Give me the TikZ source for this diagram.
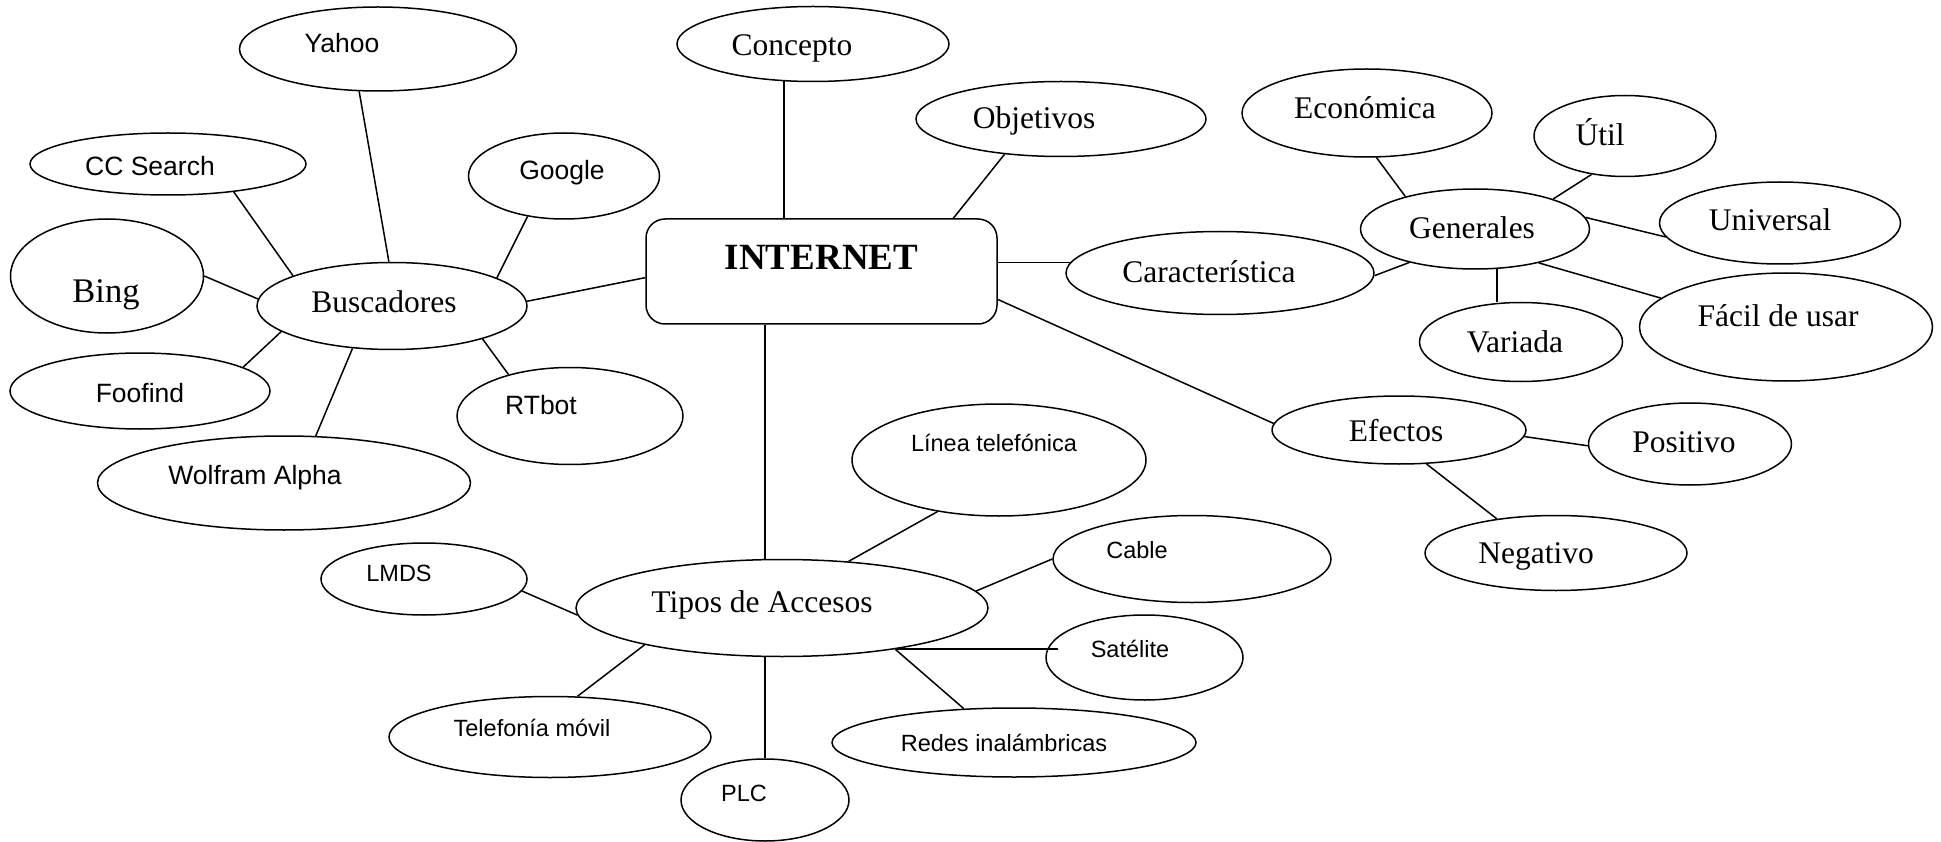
\documentclass[tikz,border=0pt]{standalone}
\usepackage{fontspec}
\setmainfont{Liberation Serif}
\newfontfamily\arialf{Liberation Sans}
\usetikzlibrary{shapes.geometric}
\tikzset{
  el/.style={ellipse, draw, line width=1.5pt, inner sep=0pt},
  tx/.style={inner sep=0pt, text height=21pt, text depth=0pt, font=\fontsize{31.5}{36}\selectfont},
  sa/.style={inner sep=0pt, text height=19pt, text depth=0pt, font=\arialf\fontsize{26.5}{30}\selectfont},
  sb/.style={inner sep=0pt, text height=17pt, text depth=0pt, font=\arialf\fontsize{23.5}{27}\selectfont},
  ln/.style={line width=1.5pt},
}
\begin{document}
\begin{tikzpicture}[x=1pt,y=-1pt]
\useasboundingbox (0,0) rectangle (1941,842);
% centre
\node[draw, line width=1.5pt, rounded corners=19pt, minimum width=351pt, minimum height=105pt, inner sep=0pt,
  label={[tx, font=\bfseries\fontsize{37}{42}\selectfont, text height=25pt, yshift=14.5pt]center:INTERNET}] (internet) at (821.5,271.5) {};
% top
\node[el, minimum width=272pt, minimum height=75pt, label={[tx,xshift=-21pt,yshift=-1pt]center:Concepto}] (concepto) at (813,44) {};
\node[el, minimum width=290pt, minimum height=75pt, label={[tx,xshift=-27pt,yshift=1pt]center:Objetivos}] (objetivos) at (1061,119) {};
\node[el, minimum width=308pt, minimum height=83pt, label={[tx,xshift=-11pt,yshift=1pt]center:Característica}] (caract) at (1220,273) {};
% buscadores
\node[el, minimum width=270pt, minimum height=87pt, label={[tx,xshift=-8pt,yshift=4pt]center:Buscadores}] (busc) at (392,306) {};
\node[el, minimum width=277pt, minimum height=84pt, label={[sa,xshift=-36pt,yshift=6pt]center:Yahoo}] (yahoo) at (378,49) {};
\node[el, minimum width=276pt, minimum height=62pt, label={[sa,xshift=-18pt,yshift=-2pt]center:CC Search}] (ccs) at (168,164) {};
\node[el, minimum width=191pt, minimum height=86pt, label={[sa,xshift=-2pt,yshift=6pt]center:Google}] (google) at (564,176) {};
\node[el, minimum width=193pt, minimum height=114pt, label={[tx,font=\fontsize{34.5}{40}\selectfont,text height=23pt,xshift=-1pt,yshift=-15pt]center:Bing}] (bing) at (107,276) {};
\node[el, minimum width=260pt, minimum height=76pt, label={[sa,yshift=-2pt]center:Foofind}] (foofind) at (140,391) {};
\node[el, minimum width=226pt, minimum height=97pt, label={[sa,xshift=-29pt,yshift=11pt]center:RTbot}] (rtbot) at (570,416) {};
\node[el, minimum width=373pt, minimum height=94pt, label={[sa,xshift=-29pt,yshift=8pt]center:Wolfram Alpha}] (wolfram) at (284,483) {};
% generales
\node[el, minimum width=229pt, minimum height=80pt, label={[tx,xshift=-3pt,yshift=1pt]center:Generales}] (gen) at (1475,229) {};
\node[el, minimum width=250pt, minimum height=88pt, label={[tx,xshift=-2pt,yshift=5pt]center:Económica}] (econ) at (1367,113) {};
\node[el, minimum width=182pt, minimum height=81pt, label={[tx,xshift=-25pt,yshift=1pt]center:Útil}] (util) at (1625,136) {};
\node[el, minimum width=241pt, minimum height=82pt, label={[tx,xshift=-10pt,yshift=3pt]center:Universal}] (univ) at (1780,223) {};
\node[el, minimum width=203pt, minimum height=79pt, label={[tx,xshift=-6pt]center:Variada}] (variada) at (1521,342) {};
\node[el, minimum width=293pt, minimum height=108pt, label={[tx,xshift=-8pt,yshift=11pt]center:Fácil de usar}] (facil) at (1786,327) {};
% efectos
\node[el, minimum width=254pt, minimum height=68pt, label={[tx,xshift=-3pt,yshift=-1pt]center:Efectos}] (efectos) at (1399,430) {};
\node[el, minimum width=203pt, minimum height=82pt, label={[tx,xshift=-6pt,yshift=2pt]center:Positivo}] (positivo) at (1690,444) {};
\node[el, minimum width=262pt, minimum height=75pt, label={[tx,xshift=-20pt]center:Negativo}] (negativo) at (1556,553) {};
% tipos de accesos
\node[el, minimum width=412pt, minimum height=97pt, label={[tx,xshift=-20pt,yshift=6pt]center:Tipos de Accesos}] (tipos) at (782,608) {};
\node[el, minimum width=294pt, minimum height=112pt, label={[sb,xshift=-5pt,yshift=17pt]center:Línea telefónica}] (linea) at (999,460) {};
\node[el, minimum width=278pt, minimum height=87pt, label={[sb,xshift=-55pt,yshift=9pt]center:Cable}] (cable) at (1192,559) {};
\node[el, minimum width=197pt, minimum height=85pt, label={[sb,xshift=-14.5pt,yshift=8.5pt]center:Satélite}] (satel) at (1144.5,657.5) {};
\node[el, minimum width=364pt, minimum height=69pt, label={[sb,xshift=-10pt]center:Redes inalámbricas}] (redes) at (1014,742.5) {};
\node[el, minimum width=168pt, minimum height=82pt, label={[sb,xshift=-21pt,yshift=7pt]center:PLC}] (plc) at (765,800) {};
\node[el, minimum width=322pt, minimum height=81pt, label={[sb,xshift=-18pt,yshift=9pt]center:Telefonía móvil}] (movil) at (550,737) {};
\node[el, minimum width=206pt, minimum height=72pt, label={[sb,xshift=-25pt,yshift=6pt]center:LMDS}] (lmds) at (424,579) {};
% connectors: internet
\draw[ln] (concepto.232) -- (concepto.232 |- internet.north);
\draw[ln] (objetivos.212) -- (internet.22);
\draw[ln] (caract.176) -- (caract.176 -| internet.east);
\draw[ln] (busc.2) -- (internet.182);
\draw[ln] (internet.351) -- (efectos.177);
\draw[ln] (internet.south -| plc.north) -- (tipos.north -| plc.north);
% buscadores
\draw[ln] (yahoo.246) -- (busc.94);
\draw[ln] (ccs.337) -- (busc.163);
\draw[ln] (google.228) -- (busc.15);
\draw[ln] (bing.0) -- (busc.177);
\draw[ln] (foofind.13) -- (busc.193);
\draw[ln] (rtbot.146) -- (busc.340);
\draw[ln] (wolfram.56) -- (busc.227);
% generales
\draw[ln] (econ.282) -- (gen.155);
\draw[ln] (util.229) -- (gen.21);
\draw[ln] (univ.187) -- (gen.6);
\draw[ln] (caract.359) -- (gen.207);
\draw[ln] (gen.299) -- (gen.299 |- variada.north);
\draw[ln] (facil.167) -- (gen.332);
% efectos
\draw[ln] (efectos.357) -- (positivo.181);
\draw[ln] (efectos.309) -- (negativo.150);
% tipos
\draw[ln] (linea.220) -- (tipos.35);
\draw[ln] (cable.180) -- (tipos.5);
\draw[ln] (lmds.353) -- (tipos.182);
\draw[ln] (movil.56) -- (tipos.195);
\draw[ln, shorten >=-13pt] (tipos.340) -- (tipos.340 -| satel.west);
\draw[ln] (tipos.340) -- (redes.146);
\draw[ln] (tipos.south -| plc.north) -- (plc.north);
\end{tikzpicture}
\end{document}
